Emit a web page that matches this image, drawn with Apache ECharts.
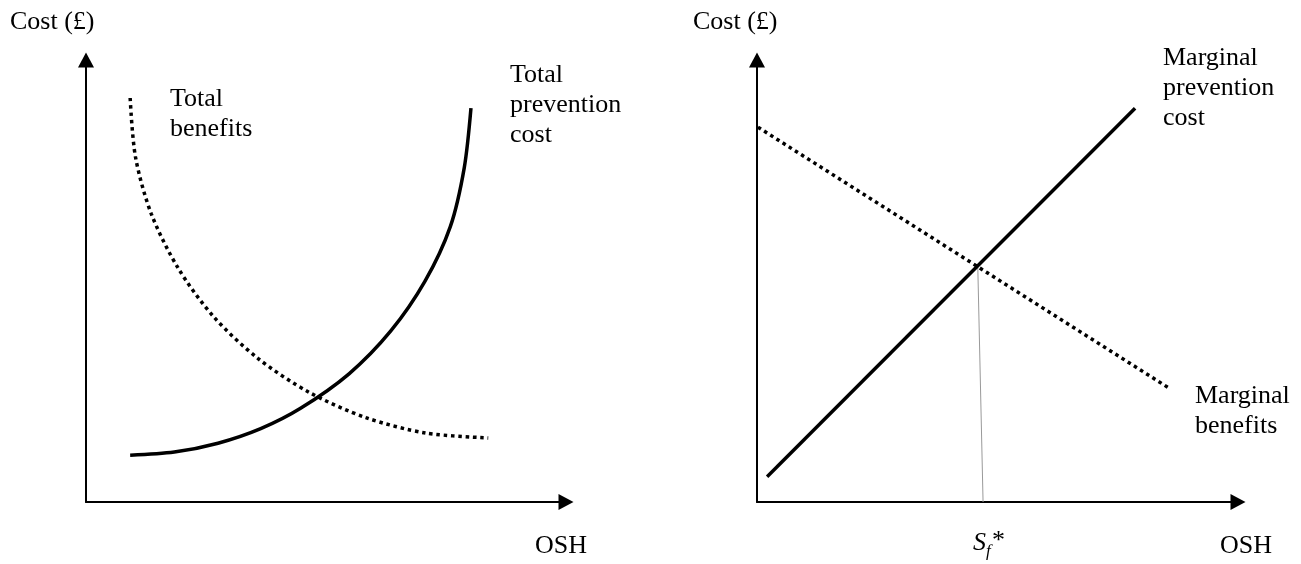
<!DOCTYPE html>
<html>
<head>
<meta charset="utf-8">
<script src="https://cdn.jsdelivr.net/npm/echarts@6/dist/echarts.min.js"></script>
<style>
  html, body { margin: 0; padding: 0; background: #fff; }
  #chart { width: 1301px; height: 564px; }
</style>
</head>
<body>
<div id="chart"></div>
<script>
// values are in arbitrary units, 0..100 on both axes
const totalPreventionCost = [
    [9.2, 10.6], [18.4, 11.3], [27.5, 13.3], [36.4, 16.6], [44.7, 21.2],
    [54.8, 29.0], [63.5, 38.7], [70.6, 49.9], [75.9, 62.3], [78.8, 75.6],
    [80.2, 89.1]
];
const totalBenefits = [
    [9.2, 91.4], [10.3, 78.1], [13.6, 65.2], [19.2, 52.9], [26.6, 41.9],
    [35.8, 32.5], [46.5, 24.8], [58.3, 19.1], [70.8, 15.6], [83.8, 14.5]
];
const marginalPreventionCost = [[2.1, 5.7], [78.6, 89.1]];
const marginalBenefits = [[0.2, 84.8], [85.9, 25.6]];
const optimumDrop = [[45.9, 53.4], [47.0, 0]];

const FONT = '"Liberation Serif", "Times New Roman", serif';

// 文字标注
function label(text, x, y, extra) {
    return {
        type: 'text',
        x: x,
        y: y,
        style: Object.assign({
            text: text,
            font: '26px ' + FONT,
            fill: '#000',
            verticalAlign: 'middle',
            lineHeight: 30
        }, extra || {})
    };
}

function axisPair(idx) {
    const line = {
        show: true,
        onZero: false,
        symbol: ['none', 'triangle'],
        symbolSize: [16, 15],
        lineStyle: { color: '#000', width: 2 }
    };
    const common = {
        type: 'value', gridIndex: idx, min: 0, max: 100,
        axisLine: line, axisTick: { show: false },
        axisLabel: { show: false }, splitLine: { show: false }
    };
    return { x: Object.assign({}, common), y: Object.assign({}, common) };
}

const a0 = axisPair(0), a1 = axisPair(1);
const chart = echarts.init(document.getElementById('chart'), null, { renderer: 'canvas' });

const dotted = { color: '#000', width: 3.5, type: [3.5, 3.8], cap: 'butt' };

chart.setOption({
    animation: false,
    backgroundColor: '#fff',
    grid: [
        { left: 86, top: 60, width: 480, height: 442 },
        { left: 757, top: 60, width: 481, height: 442 }
    ],
    xAxis: [a0.x, a1.x],
    yAxis: [a0.y, a1.y],
    series: [
        {
            name: 'Total prevention cost', type: 'line', xAxisIndex: 0, yAxisIndex: 0,
            data: totalPreventionCost, smooth: 0.3, showSymbol: false,
            lineStyle: { color: '#000', width: 3.5 }
        },
        {
            name: 'Total benefits', type: 'line', xAxisIndex: 0, yAxisIndex: 0,
            data: totalBenefits, smooth: 0.3, showSymbol: false,
            lineStyle: dotted
        },
        {
            name: 'Marginal prevention cost', type: 'line', xAxisIndex: 1, yAxisIndex: 1,
            data: marginalPreventionCost, showSymbol: false,
            lineStyle: { color: '#000', width: 3.5 }
        },
        {
            name: 'Marginal benefits', type: 'line', xAxisIndex: 1, yAxisIndex: 1,
            data: marginalBenefits, showSymbol: false,
            lineStyle: dotted
        },
        {
            name: 'Sf*', type: 'line', xAxisIndex: 1, yAxisIndex: 1,
            data: optimumDrop, showSymbol: false, z: 1,
            lineStyle: { color: '#999', width: 1 }
        }
    ],
    graphic: [
        label('Cost (£)', 10, 22),
        label('Total\nbenefits', 170, 114),
        label('Total\nprevention\ncost', 510, 105),
        label('OSH', 535, 546),
        label('Cost (£)', 693, 22),
        label('Marginal\nprevention\ncost', 1163, 88),
        label('Marginal\nbenefits', 1195, 411),
        label('S', 973, 543, { font: 'italic 26px ' + FONT }),
        label('f', 986, 552, { font: 'italic 17px ' + FONT }),
        label('*', 992, 541),
        label('OSH', 1220, 546)
    ]
});
</script>
</body>
</html>
